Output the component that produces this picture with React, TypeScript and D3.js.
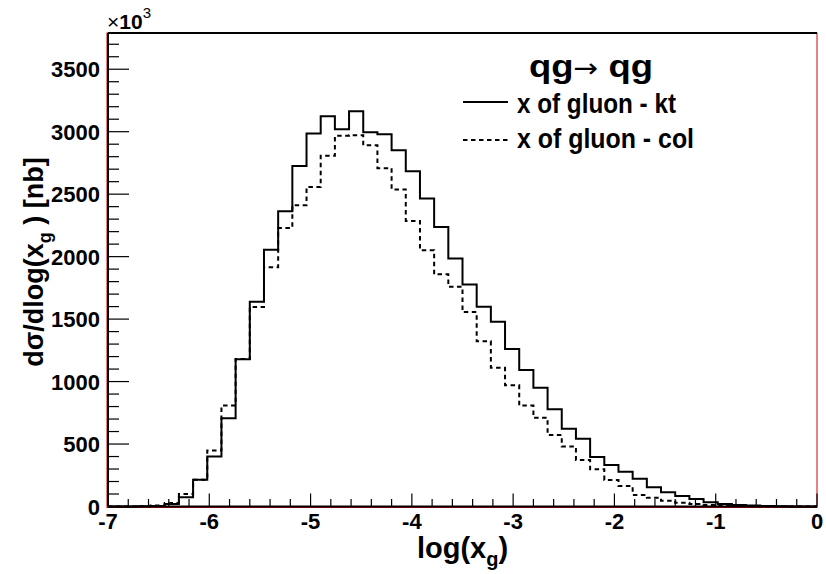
import React from "react";
import * as d3 from "d3";

const binLow = -7;
const binHigh = 0;
const nBins = 50;

const ktValues = [
  0, 0, 2, 5, 20, 74, 215, 400, 706, 1178,
  1638, 2055, 2364, 2726, 2986, 3124, 3020, 3164, 2995, 2980,
  2852, 2684, 2465, 2238, 1985, 1777, 1598, 1478, 1260, 1092,
  950, 778, 622, 542, 396, 332, 278, 222, 154, 114,
  84, 60, 35, 20, 12, 8, 4, 2, 1, 0,
];

const colValues = [
  0, 0, 2, 8, 28, 100, 215, 448, 808, 1180,
  1596, 1916, 2230, 2412, 2558, 2808, 2968, 2972, 2892, 2708,
  2538, 2286, 2052, 1858, 1758, 1556, 1322, 1110, 970, 808,
  710, 572, 480, 372, 298, 212, 164, 92, 70, 46,
  30, 20, 12, 6, 4, 2, 1, 0, 0, 0,
];

const xTickValues = [-7, -6, -5, -4, -3, -2, -1, 0];
const yTickValues = [0, 500, 1000, 1500, 2000, 2500, 3000, 3500];
const yMax = 3790;

const legendTitle = "qg";
const legendTitle2 = " qg";
const seriesNames = ["x of gluon - kt", "x of gluon - col"];

const W = 826;
const H = 574;
const L = 108;
const R = 817;
const T = 33;
const B = 506.5;

const FONT = "'Liberation Sans', Arial, Helvetica, sans-serif";

function stepPath(values: number[], x: d3.ScaleLinear<number, number>, y: d3.ScaleLinear<number, number>) {
  const w = (binHigh - binLow) / nBins;
  const pts: [number, number][] = [];
  pts.push([x(binLow), y(0)]);
  values.forEach((v, i) => {
    const x0 = binLow + i * w;
    const x1 = x0 + w;
    pts.push([x(x0), y(v)]);
    pts.push([x(x1), y(v)]);
  });
  pts.push([x(binHigh), y(0)]);
  return d3.line()(pts) || "";
}

export default function App() {
  const x = d3.scaleLinear().domain([binLow, binHigh]).range([L, R]);
  const y = d3.scaleLinear().domain([0, yMax]).range([B, T]);

  const xMinor = d3.range(binLow, binHigh + 1e-9, 0.2).map((v) => Math.round(v * 10) / 10);
  const yMinor = d3.range(0, yMax, 100);

  return (
    <svg
      width={W}
      height={H}
      style={{ position: "fixed", left: 0, top: 0, background: "#fff" }}
      fontFamily={FONT}
    >
      <rect x={0} y={0} width={W} height={H} fill="#fff" />
      {/* frame (red) */}
      <rect x={L - 1} y={T} width={R - L + 1} height={B - T + 1} fill="none" stroke="#d40000" strokeWidth={1} />

      {/* histograms */}
      <path d={stepPath(colValues, x, y)} fill="none" stroke="#000" strokeWidth={2} strokeDasharray="4.5,3.5" />
      <path d={stepPath(ktValues, x, y)} fill="none" stroke="#000" strokeWidth={2} />

      {/* axes */}
      <line x1={L} x2={R} y1={T} y2={T} stroke="#000" strokeWidth={2} />
      <line x1={L} x2={L} y1={T} y2={B} stroke="#000" strokeWidth={2} />
      <line x1={L} x2={R} y1={B} y2={B} stroke="#000" strokeWidth={2} />

      {yMinor.map((v) => (
        <line key={"ym" + v} x1={L} x2={L + (v % 500 === 0 ? 21 : 11)} y1={y(v)} y2={y(v)} stroke="#000" strokeWidth={1.2} />
      ))}
      {xMinor.map((v) => (
        <line
          key={"xm" + v}
          x1={x(v)}
          x2={x(v)}
          y1={B}
          y2={B - (Math.abs(v - Math.round(v)) < 1e-6 ? 13 : 7.5)}
          stroke="#000"
          strokeWidth={1.2}
        />
      ))}

      {yTickValues.map((v) => (
        <text key={"yl" + v} x={100} y={y(v) + 8} textAnchor="end" fontSize={22} fontWeight="bold">
          {v}
        </text>
      ))}
      {xTickValues.map((v) => (
        <text key={"xl" + v} x={x(v)} y={529} textAnchor="middle" fontSize={22} fontWeight="bold">
          {v}
        </text>
      ))}

      {/* exponent */}
      <text x={107} y={29} fontSize={21}>
        <tspan>×</tspan>
        <tspan fontWeight="bold">10</tspan>
        <tspan fontSize={15} dy={-11}>3</tspan>
      </text>

      {/* axis titles */}
      <text x={x(-3.5)} y={558} textAnchor="middle" fontSize={29} fontWeight="bold">
        <tspan>log(x</tspan>
        <tspan fontSize={20} dy={8}>g</tspan>
        <tspan dy={-8}>)</tspan>
      </text>
      <text transform="translate(43,262) rotate(-90)" textAnchor="middle" fontSize={27} fontWeight="bold">
        <tspan>dσ/dlog(x</tspan>
        <tspan fontSize={18} dy={8}>g</tspan>
        <tspan dy={-8}> ) [nb]</tspan>
      </text>

      {/* legend */}
      <text x={529} y={77} fontSize={32} fontWeight="bold" textLength={124} lengthAdjust="spacingAndGlyphs">
        <tspan>{legendTitle}</tspan>
        <tspan fontWeight="normal" fontFamily="'DejaVu Sans', sans-serif" fontSize={26}>→</tspan>
        <tspan>{legendTitle2}</tspan>
      </text>
      <line x1={463} x2={508} y1={102} y2={102} stroke="#000" strokeWidth={2} />
      <text x={517} y={113} fontSize={28} fontWeight="bold" textLength={159} lengthAdjust="spacingAndGlyphs">
        {seriesNames[0]}
      </text>
      <line x1={463} x2={508} y1={140} y2={140} stroke="#000" strokeWidth={2} strokeDasharray="4.5,3.5" />
      <text x={517} y={148} fontSize={28} fontWeight="bold" textLength={177} lengthAdjust="spacingAndGlyphs">
        {seriesNames[1]}
      </text>
    </svg>
  );
}
